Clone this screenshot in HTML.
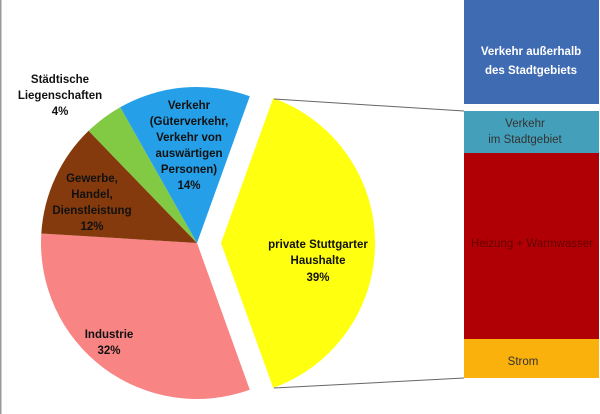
<!DOCTYPE html>
<html><head><meta charset="utf-8"><style>
html,body{margin:0;padding:0;background:#fff;}
svg{display:block;}
text{font-family:"Liberation Sans",sans-serif;font-size:11.5px;}
.b{font-weight:bold;fill:#111;}
</style></head><body>
<svg width="600" height="414" viewBox="0 0 600 414">
<rect x="0" y="0" width="1.5" height="414" fill="#999"/>
<path d="M197,243 L249.8,389.8 A156,156 0 0 1 41.3,233.5 Z" fill="#f88484"/>
<path d="M197,243 L41.3,233.5 A156,156 0 0 1 88.6,130.8 Z" fill="#843a0c"/>
<path d="M197,243 L88.6,130.8 A156,156 0 0 1 120.2,107.2 Z" fill="#82c944"/>
<path d="M197,243 L120.2,107.2 A156,156 0 0 1 249.8,96.2 Z" fill="#25a0e8"/>
<path d="M221,243 L273.2,98.1 A154,154 0 0 1 273.2,387.9 Z" fill="#ffff10"/>
<line x1="274" y1="99" x2="464" y2="111" stroke="#666" stroke-width="1"/>
<line x1="274" y1="388" x2="464" y2="378" stroke="#666" stroke-width="1"/>
<rect x="464" y="0" width="135" height="104" fill="#3f6bb2"/>
<rect x="464" y="111" width="135" height="42" fill="#44a0ba"/>
<rect x="464" y="153" width="135" height="186" fill="#b00005"/>
<rect x="464" y="339" width="135" height="39" fill="#fbb10c"/>
<g text-anchor="middle">
<text x="531" y="55" font-weight="bold" fill="#fff">Verkehr außerhalb</text>
<text x="531" y="74" font-weight="bold" fill="#fff">des Stadtgebiets</text>
<text x="525" y="127" fill="#333">Verkehr</text>
<text x="525" y="143" fill="#333">im Stadtgebiet</text>
<text x="532" y="247" fill="#600">Heizung + Warmwasser</text>
<text x="523" y="365" fill="#333">Strom</text>
<text x="318" y="248" class="b">private Stuttgarter</text>
<text x="318" y="264" class="b">Haushalte</text>
<text x="318" y="281" class="b">39%</text>
<text x="60" y="83" class="b">Städtische</text>
<text x="60" y="99" class="b">Liegenschaften</text>
<text x="60" y="115" class="b">4%</text>
<text x="189" y="109" class="b">Verkehr</text>
<text x="189" y="125" class="b">(Güterverkehr,</text>
<text x="189" y="141" class="b">Verkehr von</text>
<text x="189" y="157" class="b">auswärtigen</text>
<text x="189" y="173" class="b">Personen)</text>
<text x="189" y="189" class="b">14%</text>
<text x="92" y="182" class="b">Gewerbe,</text>
<text x="92" y="198" class="b">Handel,</text>
<text x="92" y="214" class="b">Dienstleistung</text>
<text x="92" y="230" class="b">12%</text>
<text x="109" y="338" class="b">Industrie</text>
<text x="109" y="354" class="b">32%</text>
</g>
</svg>
</body></html>
